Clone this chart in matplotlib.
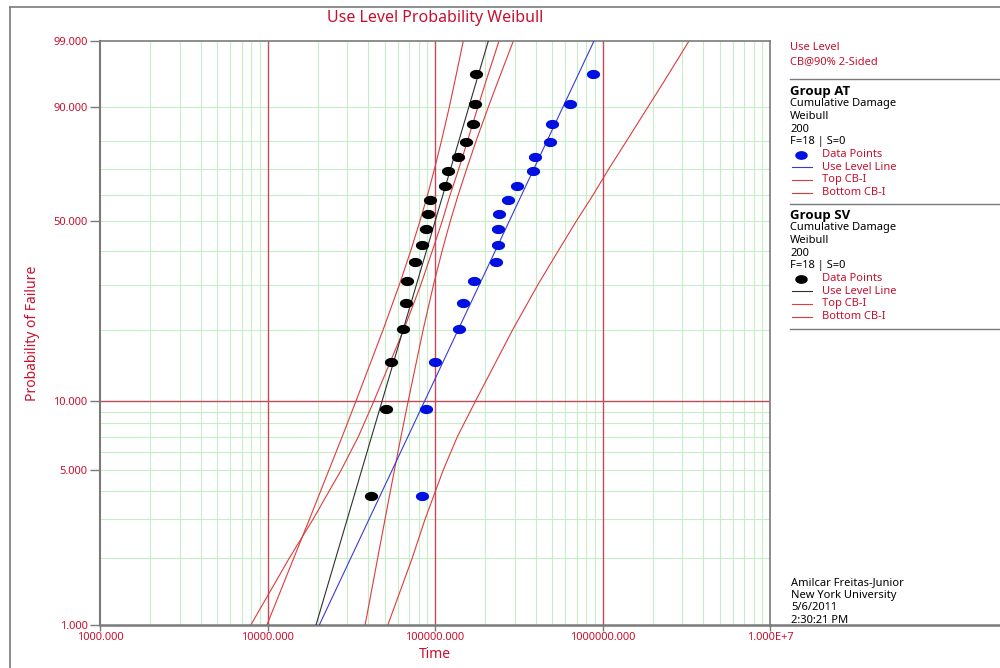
import numpy as np
import matplotlib
matplotlib.use('Agg')
import matplotlib.pyplot as plt
from matplotlib.lines import Line2D
from matplotlib.ticker import FixedLocator, NullLocator, FixedFormatter

plt.rcParams['font.family'] = ['Noto Sans', 'DejaVu Sans']

RED = '#c8102e'
GRAY = '#7a7a7a'

# median ranks (percent) of the 18 failures, same for both groups
rank_pct = [3.80, 9.24, 14.67, 20.11, 25.54, 30.98, 36.41, 41.85, 47.28,
            52.72, 58.15, 63.59, 69.02, 74.46, 79.89, 85.33, 90.76, 96.20]

# Group SV (black) failure times
sv_times = [41500, 51000, 54600, 64000, 66800, 67700, 76000, 83700, 88700,
            90400, 93700, 114700, 120100, 137700, 153800, 169300, 173300, 174900]
# Group AT (blue) failure times
at_times = [83300, 88000, 100000, 139700, 147600, 170900, 230300, 238800, 237700,
            241000, 271300, 309900, 382400, 396300, 488000, 497300, 636800, 876600]

# use level lines (end points at 1% and 99%)
line_pct = [1.0, 99.0]
sv_line = [19480, 208100]
at_line = [20380, 889700]

# 90% two-sided confidence bounds read at these probabilities
bound_pct = [1, 2, 3, 5, 7, 10, 20, 30, 40, 50, 60, 70, 80, 90, 95, 99]
sv_lower = [9918, 14316, 17789, 23322, 27923, 33757, 49063, 61216, 71700,
            81143, 90327, 99314, 109190, 121720, 131100, 147550]
sv_upper = [38255, 45427, 50291, 57308, 62663, 69183, 85025, 97958, 110405,
            123240, 137570, 154620, 175700, 208070, 236770, 293400]
at_lower = [7949, 13458, 18691, 27618, 34889, 43174, 65122, 82266, 96490,
            110252, 123070, 138710, 156110, 180350, 200770, 241040]
at_upper = [52265, 72993, 87156, 112240, 136060, 174500, 291390, 410900, 545400,
            695650, 878770, 1090410, 1389000, 1866600, 2319400, 3284100]

x_ticks = [1e3, 1e4, 1e5, 1e6, 1e7]
x_tick_labels = ['1000.000', '10000.000', '100000.000', '1000000.000', '1.000E+7']
y_ticks = [1, 5, 10, 50, 90, 99]
y_tick_labels = ['1.000', '5.000', '10.000', '50.000', '90.000', '99.000']


def weib_fwd(p):
    p = np.clip(np.asarray(p, dtype=float), 1e-6, 100 - 1e-6)
    return np.log(-np.log(1 - p / 100.0))


def weib_inv(w):
    return 100.0 * (1 - np.exp(-np.exp(w)))


# ellipse marker
th = np.linspace(0, 2 * np.pi, 40)
ell = list(zip(np.cos(th), 0.66 * np.sin(th)))

fig = plt.figure(figsize=(10, 6.68), dpi=100)
ax = fig.add_axes([0.1, 43 / 668, 0.67, 584 / 668])
ax.set_xscale('log')
ax.set_yscale('function', functions=(weib_fwd, weib_inv))
ax.set_xlim(1e3, 1e7)
ax.set_ylim(1, 99)

# grid
for dec in [1e3, 1e4, 1e5, 1e6]:
    for m in range(2, 10):
        ax.axvline(dec * m, color='#c6eec6', lw=0.8, zorder=0)
for p in [2, 3, 4, 5, 6, 7, 8, 9, 20, 30, 40, 50, 60, 70, 80, 90]:
    ax.axhline(p, color='#c6eec6', lw=0.8, zorder=0)
for v in [1e4, 1e5, 1e6]:
    ax.axvline(v, color='#c24a5a', lw=1.0, zorder=1)
ax.axhline(10, color='#c24a5a', lw=1.0, zorder=1)

# bounds
for lo, hi in [(sv_lower, sv_upper), (at_lower, at_upper)]:
    ax.plot(lo, bound_pct, color='#e0393e', lw=0.8, zorder=2)
    ax.plot(hi, bound_pct, color='#e0393e', lw=0.8, zorder=2)

# use level lines
ax.plot(sv_line, line_pct, color='#303030', lw=0.8, zorder=3)
ax.plot(at_line, line_pct, color='#3a3ad6', lw=0.8, zorder=3)

# data points
ax.plot(sv_times, rank_pct, ls='none', marker=ell, ms=8.5, color='black', zorder=4)
ax.plot(at_times, rank_pct, ls='none', marker=ell, ms=8.5, color='#0010e0', zorder=4)

ax.xaxis.set_major_locator(FixedLocator(x_ticks))
ax.xaxis.set_major_formatter(FixedFormatter(x_tick_labels))
ax.xaxis.set_minor_locator(NullLocator())
ax.yaxis.set_major_locator(FixedLocator(y_ticks))
ax.yaxis.set_major_formatter(FixedFormatter(y_tick_labels))
ax.yaxis.set_minor_locator(NullLocator())
ax.tick_params(axis='y', direction='out', length=7, width=1, color=GRAY,
               labelcolor=RED, labelsize=8, pad=2)
ax.tick_params(axis='x', direction='out', length=4, width=1, color=GRAY,
               labelcolor=RED, labelsize=8, pad=1)
for s in ax.spines.values():
    s.set_color(GRAY)
    s.set_linewidth(1.2)
ax.spines['bottom'].set_linewidth(1.8)
ax.spines['left'].set_linewidth(1.5)


def fx(px):
    return px / 1000.0


def fy(py):
    return 1 - py / 668.0


fig.text(fx(435), fy(18), 'Use Level Probability Weibull', color=RED,
         fontsize=11.5, ha='center', va='center')
fig.text(fx(435), fy(655), 'Time', color=RED, fontsize=10, ha='center', va='center')
fig.text(fx(33), fy(333), 'Probability of Failure', color=RED, fontsize=10,
         ha='center', va='center', rotation=90)

# outer frame and panel lines
fig.add_artist(Line2D([fx(9.5), fx(9.5)], [fy(7), 0], color=GRAY, lw=1.2))
fig.add_artist(Line2D([fx(9.5), 1], [fy(7), fy(7)], color=GRAY, lw=1.2))
fig.add_artist(Line2D([fx(770), 1], [fy(625), fy(625)], color=GRAY, lw=1.8))
for yy in [79, 204, 328.7]:
    fig.add_artist(Line2D([fx(790), 1], [fy(yy), fy(yy)], color=GRAY, lw=1.0))

# legend panel
fig.text(fx(790), fy(48), 'Use Level', color=RED, fontsize=8, va='center')
fig.text(fx(790), fy(61.5), 'CB@90% 2-Sided', color=RED, fontsize=8, va='center')

groups = [('Group AT', 91, '#0010e0', '#3a3ad6'),
          ('Group SV', 215, 'black', '#303030')]
for name, y0, mcol, lcol in groups:
    fig.text(fx(790), fy(y0), name, color='black', fontsize=9.5,
             fontweight='bold', family=['Open Sans', 'DejaVu Sans'], va='center')
    info = ['Cumulative Damage', 'Weibull', '200', 'F=18 | S=0']
    for k, t in enumerate(info):
        fig.text(fx(790), fy(y0 + 12.7 * (k + 1)), t, color='black',
                 fontsize=8, va='center')
    entries = ['Data Points', 'Use Level Line', 'Top CB-I', 'Bottom CB-I']
    for k, t in enumerate(entries):
        yy = y0 + 12.7 * (k + 5)
        fig.text(fx(822), fy(yy), t, color=RED, fontsize=8, va='center')
        if k == 0:
            fig.add_artist(Line2D([fx(801)], [fy(yy)], ls='none', marker=ell,
                                  ms=8, color=mcol))
        else:
            c = lcol if k == 1 else '#e0393e'
            fig.add_artist(Line2D([fx(792), fx(812)], [fy(yy), fy(yy)],
                                  color=c, lw=0.8))

credits = ['Amilcar Freitas-Junior', 'New York University', '5/6/2011', '2:30:21 PM']
for k, t in enumerate(credits):
    fig.text(fx(791), fy(582.7 + 12.5 * k), t, color='black', fontsize=8, va='center')

fig.savefig('out.png', dpi=100, facecolor='white')
